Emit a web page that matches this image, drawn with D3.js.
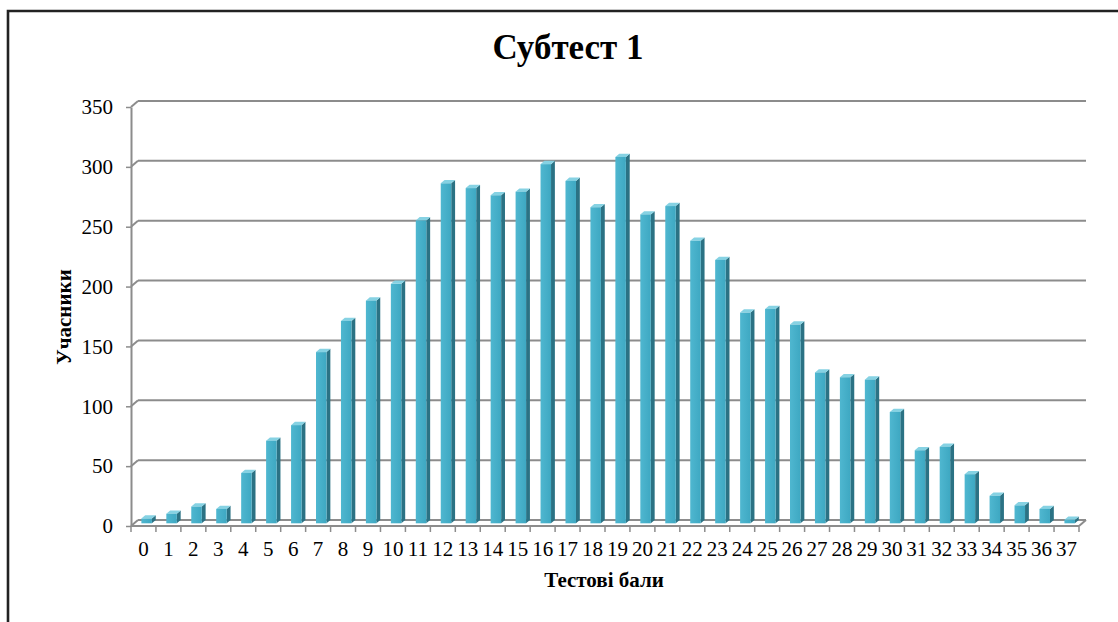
<!DOCTYPE html>
<html>
<head>
<meta charset="utf-8">
<script src="https://cdn.jsdelivr.net/npm/d3@7"></script>
<style>
  body { margin: 0; background: #fff; }
  svg { display: block; font-family: "Liberation Serif", "Times New Roman", serif; }
  .grid line { stroke: #8c8c8c; stroke-width: 2; }
  .tick text { fill: #000; }
</style>
</head>
<body>
<svg width="1118" height="622"></svg>
<script>
const scores = ['0','1','2','3','4','5','6','7','8','9','10','11','12','13','14','15','16','17','18',
                '19','20','21','22','23','24','25','26','27','28','29','30','31','32','33','34','35','36','37'];
const participants = [4, 8, 14, 12, 42, 69, 82, 143, 169, 186, 200, 253, 284, 280, 274, 277, 300, 286, 264,
                      306, 258, 265, 236, 220, 176, 179, 166, 126, 122, 120, 93, 61, 64, 41, 23, 15, 12, 3];
const yTicks = [0, 50, 100, 150, 200, 250, 300, 350];

const svg = d3.select('svg');

// outer frame (only left and top edges show)
svg.append('path')
    .attr('d', 'M8,622 L8,11 L1118,11')
    .attr('fill', 'none')
    .attr('stroke', '#222')
    .attr('stroke-width', 2.6);

// front plane scales, back wall is shifted by depth
const depth = { x: 7, y: -6 };
const plotLeft = 131, plotRight = 1079, plotBottom = 526, plotTop = 107;

const xScale = d3.scaleBand()
    .domain(scores)
    .range([plotLeft, plotRight])
    .paddingInner(0)
    .paddingOuter(0);

const yScale = d3.scaleLinear()
    .domain([0, 350])
    .range([plotBottom, plotTop]);

const chart = svg.append('g');

// back wall gridlines + left side diagonals
const grid = chart.append('g').attr('class', 'grid');
yTicks.forEach(v => {
    const y = yScale(v);
    grid.append('line')
        .attr('x1', plotLeft + depth.x).attr('x2', plotRight + depth.x)
        .attr('y1', y + depth.y).attr('y2', y + depth.y);
    grid.append('line')
        .attr('x1', plotLeft).attr('x2', plotLeft + depth.x)
        .attr('y1', y).attr('y2', y + depth.y);
});

// floor front edge + right diagonal
grid.append('line')
    .attr('x1', plotLeft).attr('x2', plotRight)
    .attr('y1', plotBottom).attr('y2', plotBottom);
grid.append('line')
    .attr('x1', plotRight).attr('x2', plotRight + depth.x)
    .attr('y1', plotBottom).attr('y2', plotBottom + depth.y);

// y axis (front)
const yAxis = chart.append('g')
    .attr('transform', `translate(${plotLeft},0)`)
    .call(d3.axisLeft(yScale).tickValues(yTicks).tickSize(5).tickPadding(13).tickSizeOuter(0));
yAxis.select('.domain').attr('stroke', '#8c8c8c').attr('stroke-width', 2);
yAxis.selectAll('.tick line').attr('stroke', '#8c8c8c').attr('stroke-width', 1.5);
yAxis.selectAll('.tick text').attr('font-size', 21).attr('font-family', '"Liberation Serif", serif');

// x axis labels
const xAxis = chart.append('g')
    .attr('transform', `translate(0,${plotBottom})`)
    .call(d3.axisBottom(xScale).tickSize(0).tickPadding(15));
xAxis.select('.domain').remove();
xAxis.selectAll('.tick text').attr('font-size', 21).attr('font-family', '"Liberation Serif", serif');

// x tick marks at category boundaries
chart.append('g')
    .selectAll('line')
    .data(scores.concat(['end']))
    .enter()
    .append('line')
    .attr('x1', (d, i) => plotLeft + i * xScale.step())
    .attr('x2', (d, i) => plotLeft + i * xScale.step())
    .attr('y1', plotBottom)
    .attr('y2', plotBottom + 6)
    .attr('stroke', '#8c8c8c')
    .attr('stroke-width', 1.5);

// gradient for bar fronts
const defs = svg.append('defs');
const grad = defs.append('linearGradient').attr('id', 'front').attr('x1', 0).attr('x2', 1);
grad.append('stop').attr('offset', '0%').attr('stop-color', '#4fb7d0');
grad.append('stop').attr('offset', '100%').attr('stop-color', '#3ea8c2');

// 3d bars
const barW = 10.5;
const bz0 = 0.45, bz1 = 1.0;   // bar depth position (fraction of wall depth)
const bars = chart.append('g')
    .selectAll('g')
    .data(participants)
    .enter()
    .append('g');

const fx = (d, i) => xScale(scores[i]) + xScale.bandwidth() / 2 - barW / 2 + depth.x * bz0;
const fyTop = d => yScale(d) + depth.y * bz0;
const fyBot = yScale(0) + depth.y * bz0;
const ddx = depth.x * (bz1 - bz0), ddy = depth.y * (bz1 - bz0);

// side face
bars.append('path')
    .attr('d', (d, i) => {
        const x = fx(d, i) + barW, yt = fyTop(d);
        return `M${x},${fyBot} L${x},${yt} L${x + ddx},${yt + ddy} L${x + ddx},${fyBot + ddy} Z`;
    })
    .attr('fill', '#2b7284');

// top face
bars.append('path')
    .attr('d', (d, i) => {
        const x = fx(d, i), yt = fyTop(d);
        return `M${x},${yt} L${x + barW},${yt} L${x + barW + ddx},${yt + ddy} L${x + ddx},${yt + ddy} Z`;
    })
    .attr('fill', '#86d2e3');

// front face
bars.append('rect')
    .attr('x', fx)
    .attr('y', fyTop)
    .attr('width', barW)
    .attr('height', d => fyBot - fyTop(d))
    .attr('fill', 'url(#front)');

// titles
svg.append('text')
    .attr('x', 568)
    .attr('y', 59)
    .attr('text-anchor', 'middle')
    .attr('font-size', 35)
    .attr('font-weight', 'bold')
    .text('Субтест 1');

svg.append('text')
    .attr('x', 604)
    .attr('y', 587)
    .attr('text-anchor', 'middle')
    .attr('font-size', 21)
    .attr('font-weight', 'bold')
    .text('Тестові бали');

svg.append('text')
    .attr('transform', 'rotate(-90)')
    .attr('x', -317)
    .attr('y', 71)
    .attr('text-anchor', 'middle')
    .attr('font-size', 21)
    .attr('font-weight', 'bold')
    .text('Учасники');
</script>
</body>
</html>
